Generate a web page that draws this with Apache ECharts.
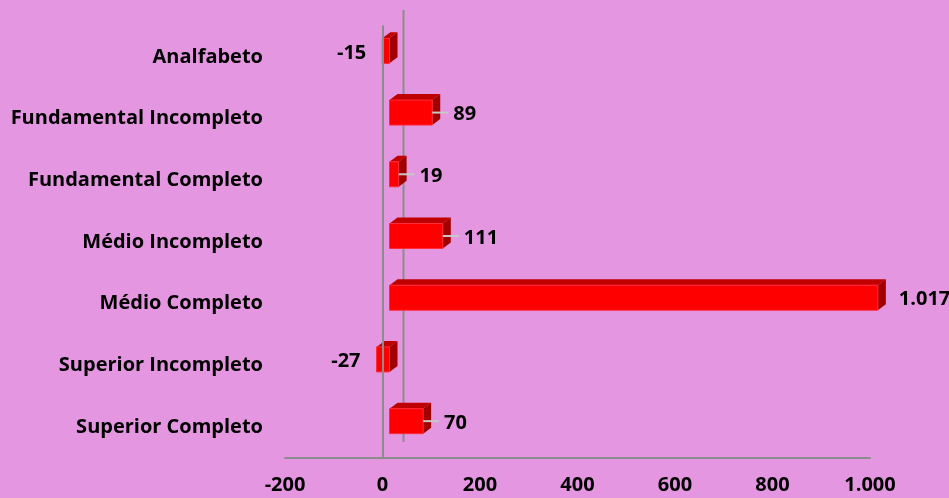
<!DOCTYPE html>
<html><head><meta charset="utf-8">
<script src="https://cdn.jsdelivr.net/npm/echarts@6/dist/echarts.min.js"></script>
<style>html,body{margin:0;padding:0;background:#E497E0;}#c{width:949px;height:498px;}</style>
</head><body><div id="c"></div>
<script>
const categories = ['Analfabeto','Fundamental Incompleto','Fundamental Completo','Médio Incompleto','Médio Completo','Superior Incompleto','Superior Completo'];
const values = [-15, 89, 19, 111, 1017, -27, 70];
const axisMin = -200, axisMax = 1000, axisStep = 200;

const FONT = '"Open Sans"';
const FS = 20;
const fmt = v => String(Math.abs(v)).replace(/\B(?=(\d{3})+(?!\d))/g, '.');
const fmtNum = v => (v < 0 ? '-' : '') + fmt(v);
const maxVal = Math.max.apply(null, values);

const chart = echarts.init(document.getElementById('c'));
chart.setOption({
  backgroundColor: '#E497E0',
  animation: false,
  grid: { left: 285, right: 79, top: 26, bottom: 40 },
  xAxis: {
    type: 'value', min: axisMin, max: axisMax, interval: axisStep,
    axisLine: { show: true, onZero: false, lineStyle: { color: '#8C8C8C', width: 2 } },
    axisTick: { show: false }, splitLine: { show: false },
    axisLabel: { color: '#000', fontFamily: FONT, fontWeight: 'bold', fontSize: FS, margin: 17, formatter: fmtNum }
  },
  yAxis: {
    type: 'category', data: categories, inverse: true,
    axisLine: { show: true, lineStyle: { color: '#8C8C8C', width: 2 } },
    axisTick: { show: false },
    axisLabel: { color: '#000', fontFamily: FONT, fontWeight: 'bold', fontSize: FS, margin: 22 }
  },
  series: [
    {
      type: 'custom', z: 1, silent: true,
      data: [[0, 0]],
      renderItem: function (params, api) {
        const cs = params.coordSys;
        const x0 = api.coord([0, 0])[0] + 21;
        return { type: 'line', shape: { x1: x0, y1: cs.y - 16, x2: x0, y2: cs.y + cs.height - 16 },
          style: { stroke: '#8C8C8C', lineWidth: 2 } };
      },
      markLine: {
        silent: true, symbol: 'none', label: { show: false },
        lineStyle: { color: '#8C8C8C', width: 2, type: 'solid' },
        data: [{ xAxis: 0 }]
      }
    },
    {
      type: 'custom', z: 3, silent: true,
      data: values.map((v, i) => [v, i]),
      renderItem: function (params, api) {
        const v = api.value(0), idx = api.value(1);
        const zero = api.coord([0, idx])[0];
        const px = api.coord([v, idx])[0];
        const k = 0.985, off = 7;
        const xa = zero + off, xb = zero + off + (px - zero) * k;
        const left = Math.min(xa, xb), right = Math.max(xa, xb);
        const cy = api.coord([0, idx])[1] - 6;
        const h = 25, top = cy - h / 2, dx = 8, dy = 6;
        const children = [
          { type: 'polygon', shape: { points: [[left, top], [left + dx, top - dy], [right + dx, top - dy], [right, top]] },
            style: { fill: '#C00000' } },
          { type: 'polygon', shape: { points: [[right, top], [right + dx, top - dy], [right + dx, top + h - dy], [right, top + h]] },
            style: { fill: '#A00000' } },
          { type: 'rect', shape: { x: left, y: top, width: right - left, height: h },
            style: { fill: '#FF0000', stroke: '#FF2A3A', lineWidth: 1 } }
        ];
        if (v >= 0) {
          if (v !== maxVal) {
            children.push({ type: 'line', shape: { x1: right, y1: cy, x2: right + 16, y2: cy },
              style: { stroke: '#C8C8C8', lineWidth: 2 } });
          }
          children.push({ type: 'text', style: { x: right + 21, y: cy + 2, text: fmtNum(v), textAlign: 'left', textVerticalAlign: 'middle',
            fill: '#000', font: 'bold ' + FS + 'px ' + FONT } });
        } else {
          children.push({ type: 'text', style: { x: left - 16, y: cy + 2, text: fmtNum(v), textAlign: 'right', textVerticalAlign: 'middle',
            fill: '#000', font: 'bold ' + FS + 'px ' + FONT } });
        }
        return { type: 'group', children: children };
      }
    }
  ]
});
</script></body></html>
